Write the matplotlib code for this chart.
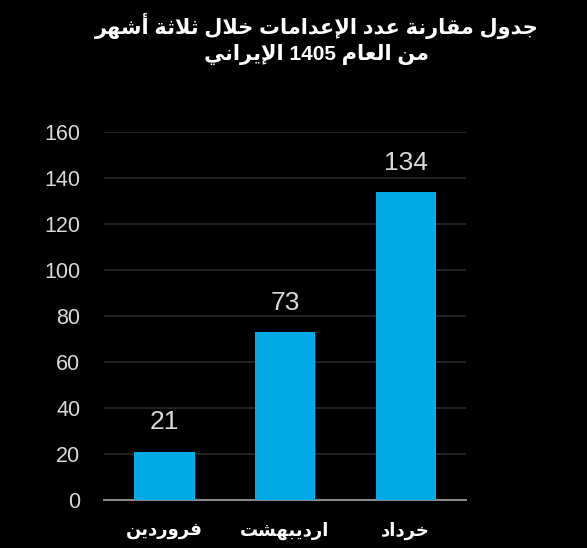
import matplotlib
matplotlib.use('Agg')
import matplotlib.pyplot as plt

# data
months = ['فروردين', 'ارديبهشت', 'خرداد']
executions = [21, 73, 134]
yticks = [0, 20, 40, 60, 80, 100, 120, 140, 160]
title_lines = ['جدول مقارنة عدد الإعدامات خلال ثلاثة أشهر', 'من العام 1405 الإيراني']

# matplotlib has no arabic shaping, so do a small one by hand
FORMS = {
    'ا': ('\uFE8D', '\uFE8E'), 'أ': ('\uFE83', '\uFE84'), 'إ': ('\uFE87', '\uFE88'),
    'ب': ('\uFE8F', '\uFE90', '\uFE91', '\uFE92'), 'ة': ('\uFE93', '\uFE94'),
    'ت': ('\uFE95', '\uFE96', '\uFE97', '\uFE98'), 'ث': ('\uFE99', '\uFE9A', '\uFE9B', '\uFE9C'),
    'ج': ('\uFE9D', '\uFE9E', '\uFE9F', '\uFEA0'), 'خ': ('\uFEA5', '\uFEA6', '\uFEA7', '\uFEA8'),
    'د': ('\uFEA9', '\uFEAA'), 'ر': ('\uFEAD', '\uFEAE'),
    'ش': ('\uFEB5', '\uFEB6', '\uFEB7', '\uFEB8'), 'ع': ('\uFEC9', '\uFECA', '\uFECB', '\uFECC'),
    'ف': ('\uFED1', '\uFED2', '\uFED3', '\uFED4'), 'ق': ('\uFED5', '\uFED6', '\uFED7', '\uFED8'),
    'ل': ('\uFEDD', '\uFEDE', '\uFEDF', '\uFEE0'), 'م': ('\uFEE1', '\uFEE2', '\uFEE3', '\uFEE4'),
    'ن': ('\uFEE5', '\uFEE6', '\uFEE7', '\uFEE8'), 'ه': ('\uFEE9', '\uFEEA', '\uFEEB', '\uFEEC'),
    'و': ('\uFEED', '\uFEEE'), 'ي': ('\uFEF1', '\uFEF2', '\uFEF3', '\uFEF4'),
}
LAM_ALEF = {'ا': ('\uFEFB', '\uFEFC'), 'أ': ('\uFEF7', '\uFEF8'), 'إ': ('\uFEF9', '\uFEFA')}


def shape(text):
    # group lam+alef into one unit
    units = []
    i = 0
    while i < len(text):
        if text[i] == 'ل' and i + 1 < len(text) and text[i + 1] in LAM_ALEF:
            units.append(LAM_ALEF[text[i + 1]])
            i += 2
        elif text[i] in FORMS:
            units.append(FORMS[text[i]])
            i += 1
        else:
            units.append(text[i])
            i += 1
    out = []
    for k, u in enumerate(units):
        if isinstance(u, str):
            out.append(u)
            continue
        prev = units[k - 1] if k > 0 else None
        nxt = units[k + 1] if k + 1 < len(units) else None
        jp = isinstance(prev, tuple) and len(prev) == 4
        jn = len(u) == 4 and isinstance(nxt, tuple)
        if jp and jn:
            out.append(u[3])
        elif jp:
            out.append(u[1])
        elif jn:
            out.append(u[2])
        else:
            out.append(u[0])
    # reverse for display, keep digit runs in order
    tokens = []
    for ch in out:
        if ch.isdigit() and tokens and tokens[-1].isdigit():
            tokens[-1] += ch
        else:
            tokens.append(ch)
    return ''.join(tokens[::-1])


plt.rcParams['font.family'] = ['Liberation Sans', 'DejaVu Sans']

fig = plt.figure(figsize=(5.87, 5.48), dpi=100, facecolor='black')
ax = fig.add_axes([0.1772, 0.0876, 0.6167, 0.6715], facecolor='black')

x = list(range(len(months)))
ax.bar(x, executions, width=0.5, color='#00ABE8', zorder=3)
for xi, v in zip(x, executions):
    ax.text(xi, v + 7.5, str(v), ha='center', va='bottom', color='#d9d9d9', fontsize=19)

ax.set_xlim(-0.5, 2.5)
ax.set_ylim(0, 160)
ax.set_yticks(yticks)
ax.set_xticks(x)
ax.set_xticklabels([shape(m) for m in months], fontweight='bold', fontsize=13, color='white')
ax.tick_params(axis='y', length=0, pad=17, labelsize=15.5, labelcolor='#d9d9d9')
ax.tick_params(axis='x', length=0, pad=16)
ax.grid(axis='y', color='#262626', linewidth=1.3, zorder=0)
for s in ['left', 'right', 'top']:
    ax.spines[s].set_visible(False)
ax.spines['bottom'].set_color('#898989')
ax.spines['bottom'].set_linewidth(1.5)

fig.text(0.54, 0.929, '\n'.join(shape(t) for t in title_lines), ha='center', va='center',
         color='white', fontsize=15, fontweight='bold', linespacing=1.35)

plt.savefig('out.png', dpi=100, facecolor='black')
